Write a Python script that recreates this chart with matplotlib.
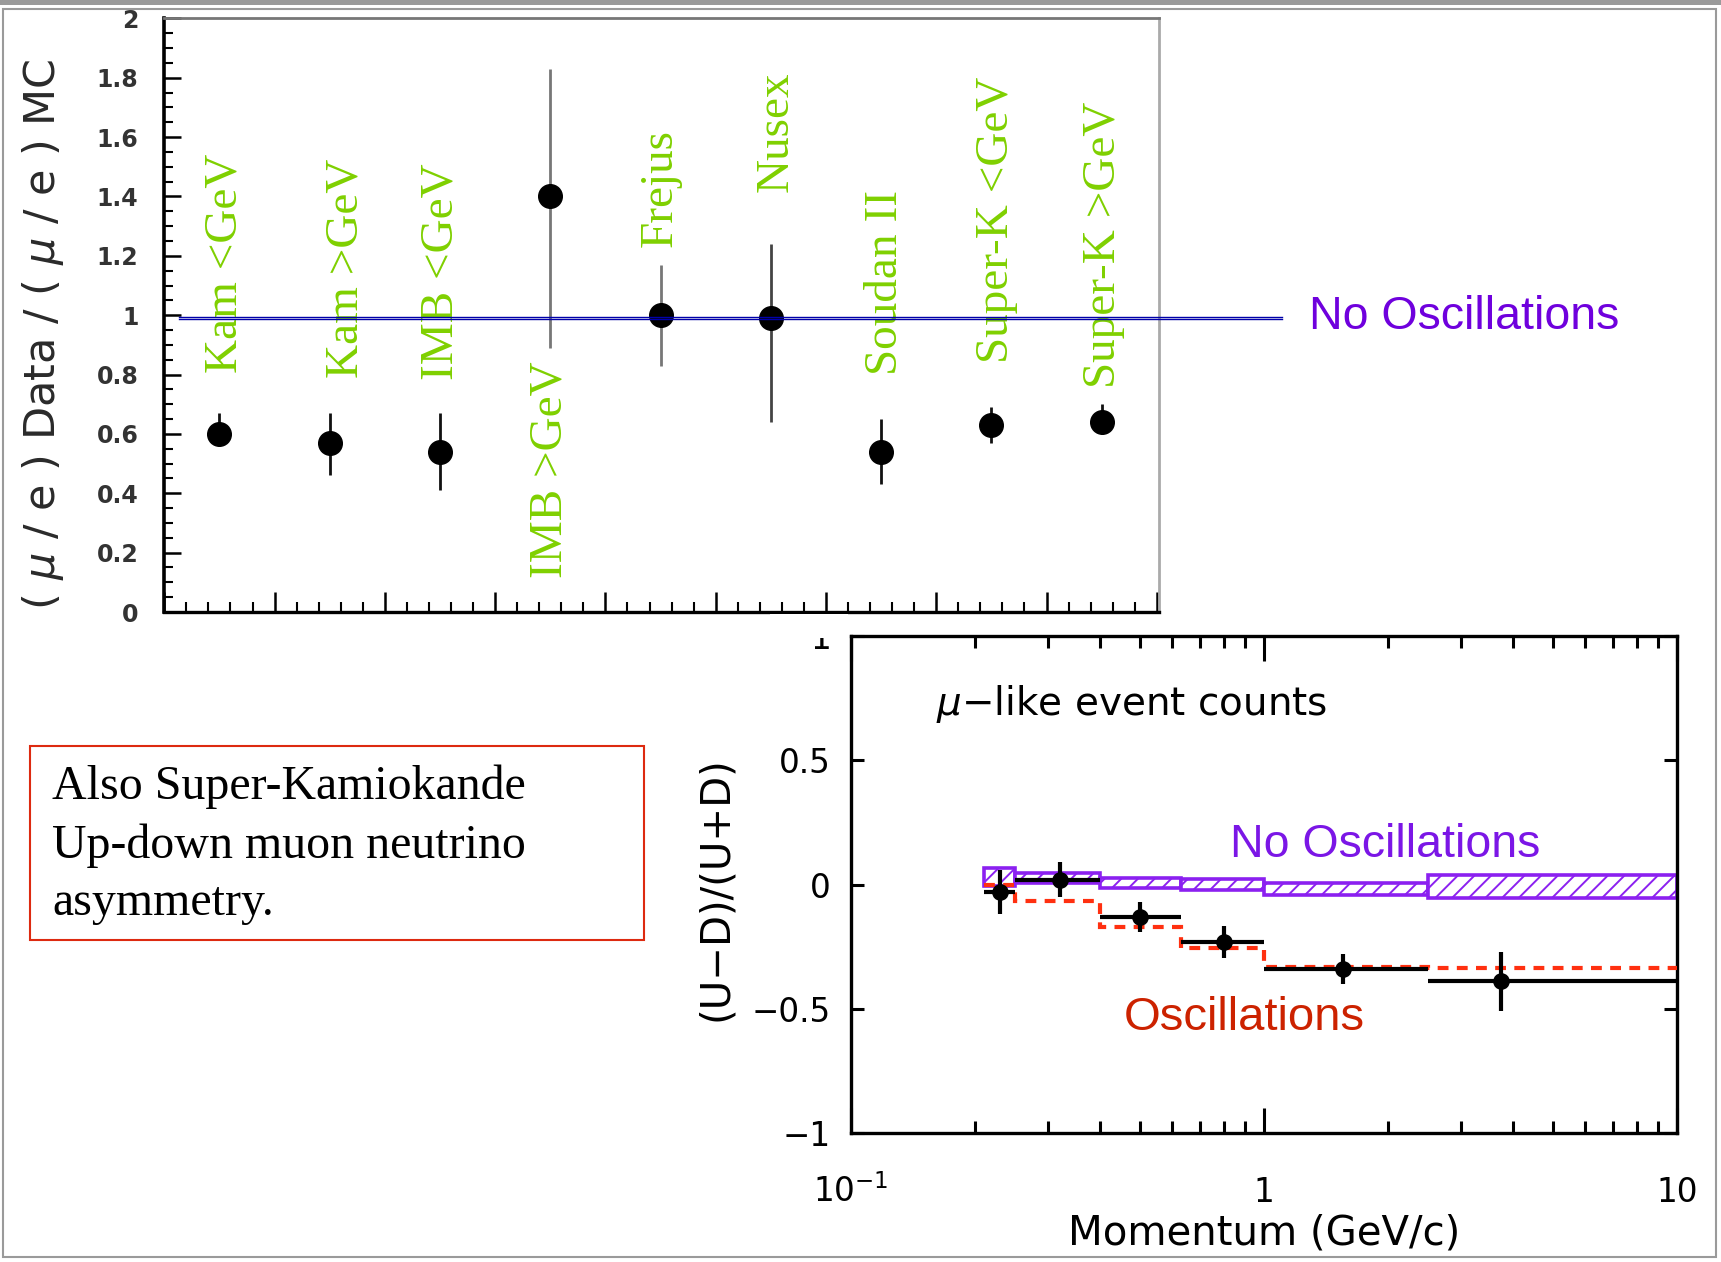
import numpy as np
import matplotlib
matplotlib.use("Agg")
from matplotlib import pyplot as plt
from matplotlib.patches import Rectangle
from matplotlib.lines import Line2D
from matplotlib.transforms import blended_transform_factory, offset_copy
from matplotlib.ticker import MultipleLocator, LogLocator, NullFormatter, NullLocator

# top panel: (mu/e) data / (mu/e) MC per experiment
experiments = ["Kam <GeV", "Kam >GeV", "IMB <GeV", "IMB >GeV", "Frejus",
               "Nusex", "Soudan II", "Super-K <GeV", "Super-K >GeV"]
ratio = [0.60, 0.57, 0.54, 1.40, 1.00, 0.99, 0.54, 0.63, 0.64]
ratio_hi = [0.67, 0.67, 0.67, 1.83, 1.17, 1.24, 0.65, 0.69, 0.70]
ratio_lo = [0.57, 0.46, 0.41, 0.89, 0.83, 0.64, 0.43, 0.57, 0.60]
no_osc_ratio = 0.99
top_yticks = [0.0, 0.2, 0.4, 0.6, 0.8, 1.0, 1.2, 1.4, 1.6, 1.8, 2.0]

# bottom panel: up-down asymmetry of mu-like events vs momentum
p_edges = [0.21, 0.25, 0.40, 0.63, 1.0, 2.5, 10.0]
p_data = [0.23, 0.32, 0.50, 0.80, 1.55, 3.75]
asym = [-0.03, 0.02, -0.13, -0.23, -0.34, -0.39]
asym_err = [0.09, 0.07, 0.06, 0.065, 0.06, 0.12]
noosc_hi = [0.068, 0.045, 0.025, 0.021, 0.008, 0.038]
noosc_lo = [-0.006, 0.005, -0.015, -0.022, -0.041, -0.053]
osc = [0.0, -0.068, -0.170, -0.255, -0.332, -0.338]
bot_yticks = [-1.0, -0.5, 0.0, 0.5, 1.0]
bot_yticklabels = ["\u22121", "\u22120.5", "0", "0.5", "1"]
bot_xticks = [0.1, 1.0, 10.0]
bot_xticklabels = [r"$\mathregular{10^{-1}}$", "1", "10"]

W, H = 1721, 1262


def fx(x):
    return x / W


def fy(y):
    return 1 - y / H


plt.rcParams['hatch.linewidth'] = 1.4
fig = plt.figure(figsize=(W / 100, H / 100), dpi=100)

# outer frame
fig.add_artist(Rectangle((0, fy(4.5)), 1, 4.5 / H, transform=fig.transFigure,
                         facecolor='#9a9a9a', edgecolor='none'))
fig.add_artist(Rectangle((fx(3.5), fy(1257)), (1716 - 3.5) / W, (1257 - 9) / H,
                         transform=fig.transFigure, fill=False,
                         edgecolor='#9a9a9a', lw=1.5))

# ---------- top panel ----------
ax1 = fig.add_axes([fx(164.3), fy(612), (1159 - 164.3) / W, (612 - 18.4) / H])
ax1.set_xlim(0, 9.02)
ax1.set_ylim(0, 2)

xpos = np.arange(len(experiments)) + 0.5
r = np.array(ratio)
yerr = [r - np.array(ratio_lo), np.array(ratio_hi) - r]
bar_cols = ['#111', '#111', '#111', '#777', '#777', '#444', '#111', '#111', '#111']
for i in range(len(experiments)):
    ax1.errorbar(xpos[i], r[i], yerr=[[yerr[0][i]], [yerr[1][i]]], fmt='none',
                 ecolor=bar_cols[i], elinewidth=2, capsize=0, zorder=2)
ax1.plot(xpos, r, 'o', color='k', ms=17, zorder=3)

# green experiment labels (x centre, bottom y)
label_pos = [(0.554, 0.804), (1.647, 0.790), (2.507, 0.783), (3.503, 0.116),
             (4.50, 1.230), (5.55, 1.416), (6.54, 0.797), (7.552, 0.838),
             (8.522, 0.755)]
for name, (lx, ly) in zip(experiments, label_pos):
    ax1.text(lx, ly, name, rotation=90, ha='center', va='bottom',
             color='#7fd000', fontsize=34, family='Liberation Serif', zorder=4)

ax1.set_yticks(top_yticks, [f"{v:g}" for v in top_yticks],
               fontweight='bold', color='#333', fontsize=17)
ax1.yaxis.set_minor_locator(MultipleLocator(0.05))
ax1.xaxis.set_major_locator(MultipleLocator(1))
ax1.xaxis.set_minor_locator(MultipleLocator(0.2))
ax1.xaxis.set_major_formatter(NullFormatter())
ax1.tick_params(axis='x', which='major', direction='in', length=14.5, width=1.8)
ax1.tick_params(axis='x', which='minor', direction='in', length=7, width=1.5)
ax1.tick_params(axis='y', which='major', direction='in', length=12, width=1.8, pad=18.7)
ax1.tick_params(axis='y', which='minor', direction='in', length=6.5, width=1.5)
ax1.spines['left'].set_linewidth(2.6)
ax1.spines['bottom'].set_linewidth(2.4)
ax1.spines['top'].set_color('#777')
ax1.spines['top'].set_linewidth(2)
ax1.spines['right'].set_color('#aaa')
ax1.spines['right'].set_linewidth(2)

fig.text(fx(43), fy(334.5), r"( $\mu$ / e ) Data / ( $\mu$ / e ) MC",
         rotation=90, ha='center', va='center', fontsize=31, color='#2a2a2a')

# "No Oscillations" reference line across the panel (thin double line)
tr = blended_transform_factory(fig.transFigure, ax1.transData)
for dy in (-1.2, 1.2):
    fig.add_artist(Line2D([fx(179), fx(1282)], [no_osc_ratio, no_osc_ratio],
                          transform=offset_copy(tr, fig=fig, y=dy, units='dots'),
                          color='#0000a8', lw=1.0, zorder=5))
fig.text(fx(1309), fy(328.6), "No Oscillations", ha='left', va='baseline',
         fontsize=33.5, color='#6f00dd', family='Liberation Sans')

# ---------- bottom panel ----------
ax2 = fig.add_axes([fx(851), fy(1133), (1677 - 851) / W, (1133 - 636) / H])
ax2.set_xscale('log')
ax2.set_xlim(0.1, 10)
ax2.set_ylim(-1, 1)

edges = np.array(p_edges)
lo = np.array(noosc_lo)
hi = np.array(noosc_hi)
ax2.bar(edges[:-1], hi - lo, width=np.diff(edges), bottom=lo, align='edge',
        facecolor='white', edgecolor='#8b20f0', hatch='//', linewidth=2.6, zorder=2)
ax2.stairs(osc, edges, baseline=None, color='#ff3010', linewidth=3,
           linestyle=(0, (2.6, 2.0)), zorder=3)
pd_ = np.array(p_data)
ax2.errorbar(pd_, asym, yerr=asym_err, xerr=[pd_ - edges[:-1], edges[1:] - pd_],
             fmt='o', color='k', ms=11, elinewidth=3, capsize=0, zorder=4)

ax2.set_yticks(bot_yticks, bot_yticklabels, fontsize=23.5)
ax2.yaxis.set_minor_locator(NullLocator())
ax2.xaxis.set_major_locator(LogLocator(base=10))
ax2.xaxis.set_minor_locator(LogLocator(base=10, subs=np.arange(2, 10)))
ax2.xaxis.set_major_formatter(NullFormatter())
ax2.xaxis.set_minor_formatter(NullFormatter())
ax2.tick_params(axis='x', which='major', direction='in', length=18, width=2.2, top=True)
ax2.tick_params(axis='x', which='minor', direction='in', length=8.6, width=2.2, top=True)
ax2.tick_params(axis='y', which='major', direction='in', length=9.5, width=2.2,
                right=True, pad=14.4)
for s in ax2.spines.values():
    s.set_linewidth(2.4)

xt = ax2.get_xaxis_transform()
for v, s in zip(bot_xticks, bot_xticklabels):
    ax2.text(v, -0.138, s, transform=xt, ha='center', va='baseline', fontsize=23.5)
ax2.text(0.5, -0.2243, "Momentum (GeV/c)", transform=ax2.transAxes,
         ha='center', va='baseline', fontsize=29)
fig.text(fx(716.5), fy(889), "(U\u2212D)/(U+D)", rotation=90,
         ha='center', va='center', fontsize=29)
fig.text(fx(935.6), fy(715), r"$\mu$" + "\u2212like event counts",
         ha='left', va='baseline', fontsize=28)
fig.text(fx(1229.8), fy(856.7), "No Oscillations", ha='left', va='baseline',
         fontsize=33.5, color='#7b16e6', family='Liberation Sans')
fig.text(fx(1123.6), fy(1029.5), "Oscillations", ha='left', va='baseline',
         fontsize=34, color='#cc2200', family='Liberation Sans')

# top image covers the upper half of the "1" tick label
fig.add_artist(Rectangle((fx(770), fy(638)), (848 - 770) / W, (638 - 614) / H,
                         transform=fig.transFigure, facecolor='white',
                         edgecolor='none', zorder=10))

# ---------- red text box ----------
fig.add_artist(Rectangle((fx(30.4), fy(940)), (644 - 30.4) / W, (940 - 745.5) / H,
                         transform=fig.transFigure, fill=False,
                         edgecolor='#dd2a10', lw=1.5))
box_lines = ["Also Super-Kamiokande", "Up-down muon neutrino", "asymmetry."]
for line, base in zip(box_lines, [799, 857.7, 915]):
    fig.text(fx(52), fy(base), line, ha='left', va='baseline', fontsize=34.5,
             family='Liberation Serif')

fig.savefig("out.png", dpi=100)
